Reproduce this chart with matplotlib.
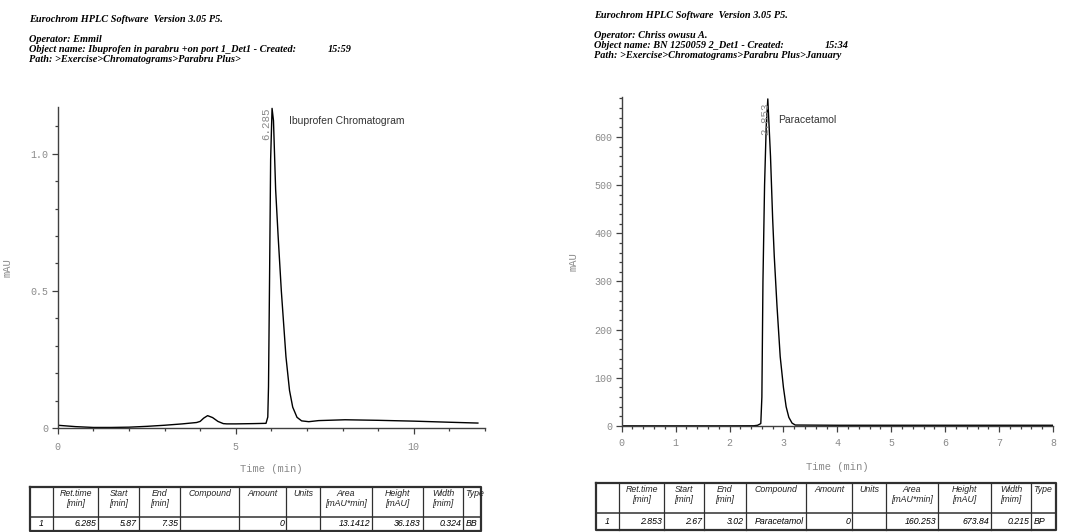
import matplotlib.pyplot as plt
from matplotlib.ticker import MultipleLocator, FixedLocator
import numpy as np

# ibuprofen trace, time [min] vs signal [mAU]
ibu_t = [0.0, 0.5, 1.0, 1.5, 2.0, 2.5, 3.0, 3.5, 3.9, 4.0, 4.1, 4.21, 4.35, 4.5, 4.65,
         4.75, 5.0, 5.5, 5.85, 5.9, 5.92, 5.95, 5.98, 6.02, 6.06, 6.12, 6.19, 6.28,
         6.41, 6.51, 6.60, 6.72, 6.85, 7.05, 7.33, 8.07, 9.0, 10.0, 11.0, 11.8]
ibu_y = [0.010, 0.005, 0.002, 0.002, 0.003, 0.006, 0.010, 0.015, 0.020, 0.024, 0.036,
         0.045, 0.038, 0.024, 0.016, 0.015, 0.015, 0.016, 0.017, 0.040, 0.150, 0.550,
         0.980, 1.165, 1.120, 0.870, 0.700, 0.500, 0.260, 0.137, 0.076, 0.039, 0.026,
         0.023, 0.027, 0.030, 0.028, 0.025, 0.021, 0.018]

# paracetamol trace
par_t = [0.0, 1.0, 2.0, 2.45, 2.52, 2.58, 2.60, 2.62, 2.65, 2.68, 2.71, 2.76, 2.80,
         2.83, 2.88, 2.94, 3.00, 3.05, 3.10, 3.16, 3.22, 4.0, 5.0, 6.0, 7.0, 8.0]
par_y = [0.3, 0.3, 0.3, 0.5, 1.5, 5, 60, 300, 500, 620, 679, 560, 430, 352, 250, 144,
         80, 40, 18, 6, 2, 1.5, 1.5, 1.5, 1.5, 1.5]

table_head = ["", "Ret.time\n[min]", "Start\n[min]", "End\n[min]", "Compound", "Amount",
              "Units", "Area\n[mAU*min]", "Height\n[mAU]", "Width\n[mim]", "Type"]
ibu_row = ["1", "6.285", "5.87", "7.35", "", "0", "", "13.1412", "36.183", "0.324", "BB"]
par_row = ["1", "2.853", "2.67", "3.02", "Paracetamol", "0", "", "160.253", "673.84",
           "0.215", "BP"]

ibu_head = ["Eurochrom HPLC Software  Version 3.05 P5.", "", "Operator: Emmil",
            "Object name: Ibuprofen in parabru +on port 1_Det1 - Created:",
            "Path: >Exercise>Chromatograms>Parabru Plus>"]
par_head = ["Eurochrom HPLC Software  Version 3.05 P5.", "", "Operator: Chriss owusu A.",
            "Object name: BN 1250059 2_Det1 - Created:",
            "Path: >Exercise>Chromatograms>Parabru Plus>January"]

W, H = 1068, 532
mono = "Liberation Mono"
grey = "#8a8a8a"
axc = "#404040"

fig = plt.figure(figsize=(W / 100, H / 100), dpi=100)
fig.patch.set_facecolor("white")

# overlay in pixel coords for header text and result tables
ov = fig.add_axes([0, 0, 1, 1])
ov.set_xlim(0, W)
ov.set_ylim(H, 0)
ov.axis("off")


def header(x, y0, lines, time_x, time_str):
    for i, s in enumerate(lines):
        ov.text(x, y0 + i * 10, s, family="Liberation Serif", weight="bold",
                style="italic", fontsize=7.4, va="center", ha="left")
    ov.text(time_x, y0 + 3 * 10, time_str, family="Liberation Serif", weight="bold",
            style="italic", fontsize=7.4, va="center", ha="left")


header(29, 20, ibu_head, 328, "15:59")
header(594, 15, par_head, 825, "15:34")


def table(xs, yt, ym, yb, head, row):
    ov.plot([xs[0], xs[-1], xs[-1], xs[0], xs[0]], [yt, yt, yb, yb, yt],
            color="#303030", lw=1.6)
    ov.plot([xs[0], xs[-1]], [ym, ym], color="#303030", lw=1.1)
    for x in xs[1:-1]:
        ov.plot([x, x], [yt, yb], color="#303030", lw=0.9)
    last = len(row) - 1
    for i, (h, v) in enumerate(zip(head, row)):
        xc = (xs[i] + xs[i + 1]) / 2
        if i == last:
            ov.text(xs[i] + 2, yt + 2.5, h, ha="left", va="top", fontsize=6.3,
                    family="Liberation Sans", style="italic", color="#222222")
        else:
            ov.text(xc, yt + 2.5, h, ha="center", va="top", fontsize=6.3,
                    family="Liberation Sans", style="italic", color="#222222",
                    linespacing=1.05)
        yd = (ym + yb) / 2
        if i == 0:
            ov.text(xc, yd, v, ha="center", va="center", fontsize=6.3,
                    family="Liberation Sans", style="italic")
        elif i == last:
            ov.text(xs[i] + 3, yd, v, ha="left", va="center", fontsize=6.3,
                    family="Liberation Sans", style="italic")
        else:
            ov.text(xs[i + 1] - 2, yd, v, ha="right", va="center", fontsize=6.3,
                    family="Liberation Sans", style="italic")


table([30, 53, 98, 139, 180, 239, 286, 320, 372, 423, 463, 481], 487, 517, 531,
      table_head, ibu_row)
table([596, 619, 664, 704, 746, 806, 852, 886, 938, 991, 1031, 1056], 483, 513, 530,
      table_head, par_row)


def style(ax, xpad):
    for s in ["top", "right"]:
        ax.spines[s].set_visible(False)
    for s in ["left", "bottom"]:
        ax.spines[s].set_color(axc)
        ax.spines[s].set_linewidth(1.0)
    ax.tick_params(which="both", colors=axc, labelcolor=grey, direction="out")
    ax.tick_params(which="major", length=4, width=0.9, labelsize=7.2, pad=3)
    ax.tick_params(which="minor", length=2.5, width=0.9)
    ax.tick_params(axis="x", pad=xpad)
    for lab in ax.get_xticklabels() + ax.get_yticklabels():
        lab.set_family(mono)
    ax.set_facecolor("none")


# ---- ibuprofen chromatogram
a1 = fig.add_axes([57.7 / W, 1 - 428 / H, (485 - 57.7) / W, (428 - 107) / H])
a1.plot(ibu_t, ibu_y, color="black", lw=1.0)
a1.set_xlim(0, 12)
a1.set_ylim(0, 1.17)
a1.xaxis.set_major_locator(FixedLocator([0, 5, 10]))
a1.xaxis.set_minor_locator(MultipleLocator(1))
a1.yaxis.set_major_locator(FixedLocator([0, 0.5, 1.0]))
a1.yaxis.set_minor_locator(MultipleLocator(0.1))
a1.set_yticklabels(["0", "0.5", "1.0"])
style(a1, 6)
a1.set_xlabel("Time (min)", family=mono, fontsize=7.6, color=grey, labelpad=9)
a1.set_ylabel("mAU", family=mono, fontsize=7.6, color=grey)
a1.yaxis.set_label_coords(-0.105, 0.5)
pk = int(np.argmax(ibu_y))
a1.text(ibu_t[pk] - 0.03, 1.17, "6.285", rotation=90, ha="right", va="top",
        family=mono, fontsize=7.8, color=grey)
a1.text(6.5, 1.12, "Ibuprofen Chromatogram", family="Liberation Sans", fontsize=7.5,
        color="#333333", va="center")

# ---- paracetamol chromatogram
a2 = fig.add_axes([621.7 / W, 1 - 426 / H, (1053 - 621.7) / W, (426 - 97) / H])
a2.plot(par_t, par_y, color="black", lw=1.0)
a2.set_xlim(0, 8)
a2.set_ylim(0, 683)
a2.xaxis.set_major_locator(MultipleLocator(1))
a2.xaxis.set_minor_locator(MultipleLocator(0.2))
a2.yaxis.set_major_locator(MultipleLocator(100))
a2.yaxis.set_minor_locator(MultipleLocator(20))
style(a2, 5)
a2.set_xlabel("Time (min)", family=mono, fontsize=7.6, color=grey, labelpad=10)
a2.set_ylabel("mAU", family=mono, fontsize=7.6, color=grey)
a2.yaxis.set_label_coords(-0.099, 0.5)
pk = int(np.argmax(par_y))
a2.text(par_t[pk] - 0.05, 672, "2.853", rotation=90, ha="center", va="top",
        family=mono, fontsize=7.8, color=grey)
a2.text(2.9, 635, "Paracetamol", family="Liberation Sans", fontsize=7.5,
        color="#333333", va="center")

fig.savefig("out.png", dpi=100)
